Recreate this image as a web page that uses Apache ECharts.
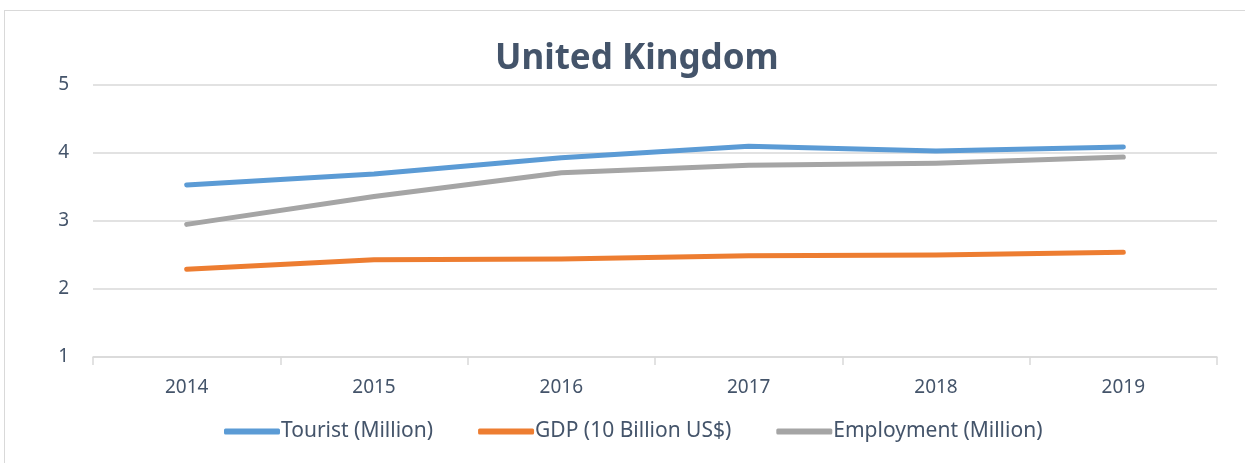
<!DOCTYPE html>
<html>
<head>
<meta charset="utf-8">
<script src="https://cdn.jsdelivr.net/npm/echarts@6/dist/echarts.min.js"></script>
<style>
html,body{margin:0;padding:0;background:#fff;}
#frame{position:absolute;left:4px;top:10px;width:1250px;height:460px;border:1px solid #d9d9d9;box-sizing:border-box;}
#c{position:absolute;left:0;top:0;width:1245px;height:463px;}
</style>
</head>
<body>
<div id="frame"></div>
<div id="c"></div>
<script>
const categories = ['2014','2015','2016','2017','2018','2019'];
const tourist = [3.53, 3.69, 3.93, 4.10, 4.03, 4.09];
const gdp = [2.29, 2.43, 2.44, 2.49, 2.50, 2.54];
const employment = [2.95, 3.36, 3.71, 3.82, 3.85, 3.94];
const seriesNames = ['Tourist (Million)', 'GDP (10 Billion US$)', 'Employment (Million)'];
const colors = ['#5B9BD5', '#ED7D31', '#A5A5A5'];

const chart = echarts.init(document.getElementById('c'));
const font = 'Noto Sans, sans-serif';
function line(name, data, color){
  return {name, type:'line', data, symbol:'none', smooth:false,
    lineStyle:{width:5, color, cap:'round', join:'round'}, itemStyle:{color}};
}
chart.setOption({
  animation:false,
  color: colors,
  title:{text:'United Kingdom', left:490, top:37,
    textStyle:{fontFamily:font, fontSize:35, fontWeight:'bold', color:'#44546A'}},
  grid:{left:93, right:28, top:85, bottom:106},
  legend:{bottom:16, left:219, icon:'roundRect', itemWidth:56, itemHeight:6, itemGap:45,
    textStyle:{fontFamily:font, fontSize:21, color:'#44546A', padding:[0,0,0,-4]},
    data:seriesNames},
  xAxis:{type:'category', data:categories, boundaryGap:true,
    axisLine:{lineStyle:{color:'#D9D9D9', width:1.5}},
    axisTick:{show:true, length:8, lineStyle:{color:'#D9D9D9', width:1.5}},
    axisLabel:{fontFamily:font, fontSize:19, color:'#44546A', margin:21}},
  yAxis:{type:'value', min:1, max:5, interval:1,
    axisLine:{show:false}, axisTick:{show:false},
    splitLine:{lineStyle:{color:'#D9D9D9', width:1.5}},
    axisLabel:{fontFamily:font, fontSize:19, color:'#44546A', margin:24}},
  series:[line(seriesNames[0], tourist, colors[0]), line(seriesNames[1], gdp, colors[1]), line(seriesNames[2], employment, colors[2])]
});
</script>
</body>
</html>
